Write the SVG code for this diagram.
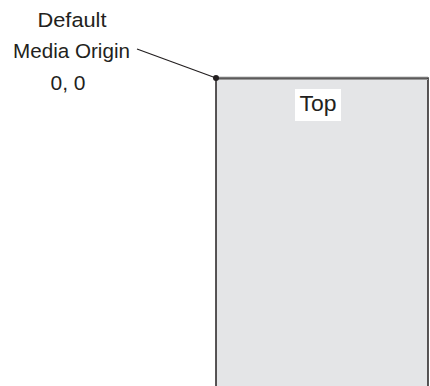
<svg xmlns="http://www.w3.org/2000/svg" width="430" height="386" viewBox="0 0 430 386">
<style>
.lbl{font-family:"Liberation Sans",Arial,sans-serif;font-size:20.5px;fill:#231f20;text-anchor:middle}
</style>
<rect width="430" height="386" fill="#fff"/>
<g id="media">
<rect x="216" y="78" width="212" height="320" fill="#e4e5e7" stroke="#231f20" stroke-width="1.5"/>
<line x1="216" y1="77.5" x2="428" y2="77.5" stroke="#777" stroke-width="1.5"/>
<line x1="216" y1="79.5" x2="428" y2="79.5" stroke="#999" stroke-width="1"/>
<rect x="295" y="89" width="46" height="32" fill="#fff"/>
<text class="lbl" x="318" y="110.5" style="font-size:22px" textLength="37" lengthAdjust="spacingAndGlyphs">Top</text>
</g>
<g id="origin-label">
<text class="lbl" x="72" y="26.5" textLength="69" lengthAdjust="spacingAndGlyphs">Default</text>
<text class="lbl" x="71.5" y="57.5" textLength="117" lengthAdjust="spacingAndGlyphs">Media Origin</text>
<text class="lbl" x="68" y="90" style="font-size:21px">0, 0</text>
</g>
<g id="connectors">
<line x1="137" y1="49" x2="216" y2="78" stroke="#231f20" stroke-width="1.2"/>
<circle cx="216" cy="78" r="3" fill="#231f20"/>
</g>
</svg>
